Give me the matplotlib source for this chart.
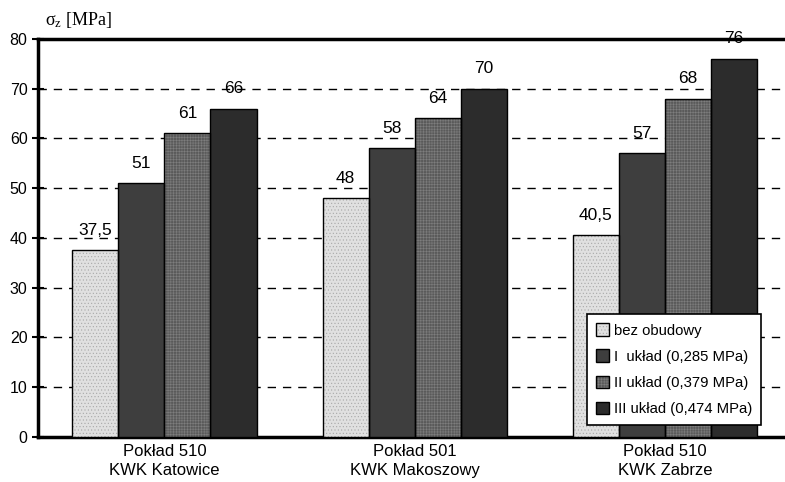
import numpy as np
import matplotlib.pyplot as plt

plt.rcParams['font.family'] = ['Liberation Sans', 'DejaVu Sans']
plt.rcParams['hatch.linewidth'] = 0.4

# Wytrzymałość próbek w trzech kopalniach
groups = ['Pokład 510\nKWK Katowice', 'Pokład 501\nKWK Makoszowy', 'Pokład 510\nKWK Zabrze']
series = ['bez obudowy', 'I  układ (0,285 MPa)', 'II układ (0,379 MPa)', 'III układ (0,474 MPa)']
values = [
    [37.5, 48, 40.5],
    [51, 58, 57],
    [61, 64, 68],
    [66, 70, 76],
]
labels = [
    ['37,5', '48', '40,5'],
    ['51', '58', '57'],
    ['61', '64', '68'],
    ['66', '70', '76'],
]
colors = ['#e0e0e0', '#3e3e3e', '#5a5a5a', '#2c2c2c']
hatch_colors = ['#a8a8a8', '#3e3e3e', '#7e7e7e', '#2c2c2c']
hatches = ['.....', None, '++++++', None]

fig = plt.figure(figsize=(7.85, 4.82), dpi=100)
ax = fig.add_axes([0.0484, 0.0934, 0.955, 0.826])

x = np.arange(len(groups))
w = 0.184
handles = []
for i in range(len(series)):
    pos = x + (i - 1.5) * w
    # wypełnienie z kreskowaniem w kolorze szarym, obrys osobno na czarno
    fill = ax.bar(pos, values[i], w, color=colors[i], edgecolor=hatch_colors[i],
                  linewidth=0, hatch=hatches[i], zorder=3)
    edge = ax.bar(pos, values[i], w, color='none', edgecolor='black', linewidth=1.0,
                  zorder=4)
    handles.append((fill[0], edge[0]))
    for p, v, t in zip(pos, values[i], labels[i]):
        ax.text(p, v + 4.0, t, ha='center', va='center', fontsize=12.5)

ax.set_xlim(-0.505, 2.49)
ax.set_ylim(0, 80)
ax.set_yticks(range(0, 81, 10))
ax.tick_params(axis='y', labelsize=11.5, direction='inout', length=8, width=1.5)
ax.tick_params(axis='x', length=0, labelsize=12, pad=5)
ax.set_xticks(x)
ax.set_xticklabels(groups, linespacing=1.35)
ax.yaxis.grid(True, linestyle=(0, (6, 5)), color='black', linewidth=1.0, zorder=0)
ax.set_axisbelow(True)

for s in ['left', 'bottom', 'top']:
    ax.spines[s].set_linewidth(2.5)
ax.spines['right'].set_visible(False)

fig.text(0.057, 0.958, r'$\mathregular{\sigma_z}$ [MPa]', fontsize=13,
         family='Liberation Serif', ha='left', va='center')

leg = ax.legend(handles, series, loc='lower right', bbox_to_anchor=(0.964, 0.03),
                borderaxespad=0, fontsize=10.7, frameon=True, fancybox=False,
                edgecolor='black', framealpha=1, handlelength=0.9, handleheight=0.9,
                handletextpad=0.3, labelspacing=0.8, borderpad=0.6)
leg.get_frame().set_linewidth(1.2)
leg.set_zorder(5)

fig.savefig('out.png', dpi=100)
